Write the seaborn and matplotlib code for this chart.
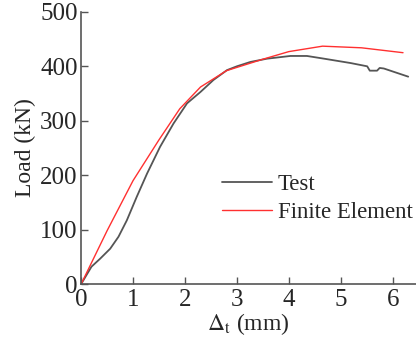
import numpy as np
import pandas as pd
import matplotlib
matplotlib.use("Agg")
import matplotlib.pyplot as plt
import seaborn as sns

test_x = [0, 0.2, 0.37, 0.56, 0.72, 0.88, 1.07, 1.27, 1.52, 1.78, 2.04, 2.30, 2.55, 2.81, 3.0, 3.26, 3.58, 4.03, 4.35, 4.68, 5.19, 5.51, 5.56, 5.70, 5.75, 5.83, 6.30]
test_y = [0, 32, 47, 65, 87, 117, 160, 203, 252, 295, 332, 353, 375, 393, 400, 408, 414, 419, 419, 414, 406, 400, 392, 392, 397, 396, 381]
fe_x = [0, 0.5, 1.0, 1.5, 1.9, 2.3, 2.8, 3.5, 4.0, 4.65, 5.4, 6.2]
fe_y = [0, 98, 190, 265, 322, 362, 392, 413, 427, 437, 434, 425]

sns.set_theme(style="ticks")
plt.rcParams['font.family'] = ['Liberation Serif', 'DejaVu Serif']
plt.rcParams['mathtext.fontset'] = 'stix'

df = pd.concat([
    pd.DataFrame({"x": test_x, "y": test_y, "series": "Test"}),
    pd.DataFrame({"x": fe_x, "y": fe_y, "series": "Finite Element"}),
])

fig = plt.figure(figsize=(4.16, 3.49), dpi=100)
ax = fig.add_axes([0.195, 0.186, 0.805, 0.78])
sns.lineplot(data=df, x="x", y="y", hue="series", sort=False, estimator=None,
             palette={"Test": "#555555", "Finite Element": "#ff3030"}, ax=ax, legend=False)
lines = ax.get_lines()
lines[0].set_linewidth(1.3)
lines[1].set_linewidth(1.0)

ax.set_xlim(0, 6.45)
ax.set_ylim(0, 500)
ax.set_xticks([0, 1, 2, 3, 4, 5, 6])
ax.set_yticks([0, 100, 200, 300, 400, 500])
for s in ["top", "right"]:
    ax.spines[s].set_visible(False)
for s in ["left", "bottom"]:
    ax.spines[s].set_color("#555555")
    ax.spines[s].set_linewidth(1.2)
ax.tick_params(direction="in", length=5, width=1, color="#555555", labelsize=18)
ax.tick_params(axis="x", pad=3.5)
ax.tick_params(axis="y", pad=2.5)
ax.set_xlabel(r"$\Delta_{\mathrm{t}}$ (mm)", fontsize=17, labelpad=0)
ax.set_ylabel("Load (kN)", fontsize=17, labelpad=3)

ax.legend(lines, ["Test", "Finite Element"], frameon=False, fontsize=16.4,
          loc="upper left", bbox_to_anchor=(0.42, 0.404), handlelength=2.2,
          handletextpad=0.26, labelspacing=0.3, borderaxespad=0, borderpad=0)

fig.savefig("out.png", dpi=100)
